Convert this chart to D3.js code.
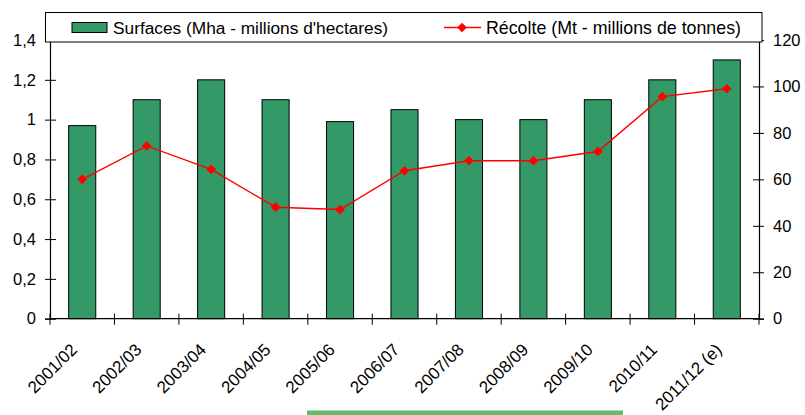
<!DOCTYPE html>
<html>
<head>
<meta charset="utf-8">
<script src="https://cdn.jsdelivr.net/npm/d3@7"></script>
<style>
  html, body { margin: 0; padding: 0; background: #fff; }
  svg { display: block; font-family: "Liberation Sans", Arial, sans-serif; }
</style>
</head>
<body>
<svg id="chart" width="805" height="415"></svg>
<script>
const categories = ["2001/02","2002/03","2003/04","2004/05","2005/06","2006/07","2007/08","2008/09","2009/10","2010/11","2011/12 (e)"];
const surfaces = [0.97, 1.10, 1.20, 1.10, 0.99, 1.05, 1.00, 1.00, 1.10, 1.20, 1.30];
const recolte = [60, 74.4, 64.3, 48, 47, 63.7, 68, 68, 72, 95.6, 99];
const leftTicks = [0, 0.2, 0.4, 0.6, 0.8, 1, 1.2, 1.4];
const leftTickLabels = ["0", "0,2", "0,4", "0,6", "0,8", "1", "1,2", "1,4"];
const rightTicks = [0, 20, 40, 60, 80, 100, 120];
const legendLabels = ["Surfaces (Mha - millions d'hectares)", "Récolte (Mt - millions de tonnes)"];

const svg = d3.select("#chart");
const X0 = 50, X1 = 759, Y0 = 318.7, Y1 = 40;

const x = d3.scaleBand().domain(categories).range([X0, X1]).paddingInner(0.58).paddingOuter(0.29);
const yL = d3.scaleLinear().domain([0, 1.4]).range([Y0, Y1]);
const yR = d3.scaleLinear().domain([0, 120]).range([Y0, Y1]);
const step = x.step();
const cx = d => x(d) + x.bandwidth() / 2;

// bars
svg.append("g").selectAll("rect").data(categories).join("rect")
  .attr("x", d => x(d))
  .attr("y", (d, i) => yL(surfaces[i]))
  .attr("width", x.bandwidth())
  .attr("height", (d, i) => Y0 - yL(surfaces[i]))
  .attr("fill", "#339966")
  .attr("stroke", "#000")
  .attr("stroke-width", 1);

// left axis
const gl = svg.append("g").attr("transform", `translate(${X0},0)`)
  .call(d3.axisLeft(yL).tickValues(leftTicks).tickFormat((d, i) => leftTickLabels[i]).tickSize(5).tickPadding(9));
gl.selectAll(".tick line").attr("x1", -5).attr("x2", 6);

// right axis
const gr = svg.append("g").attr("transform", `translate(${X1},0)`)
  .call(d3.axisRight(yR).tickValues(rightTicks).tickSize(5).tickPadding(9));
gr.selectAll(".tick line").attr("x1", -6).attr("x2", 5);

[gl, gr].forEach(g => {
  g.select(".domain").attr("stroke", "#000").attr("stroke-width", 1.2);
  g.selectAll(".tick line").attr("stroke", "#000").attr("stroke-width", 1);
  g.selectAll("text").attr("font-size", "16.5px").attr("fill", "#000")
    .attr("font-family", "Liberation Sans, Arial, sans-serif");
});

// x axis baseline + ticks at band boundaries
const gx = svg.append("g");
gx.append("line").attr("x1", X0).attr("x2", X1).attr("y1", Y0).attr("y2", Y0)
  .attr("stroke", "#000").attr("stroke-width", 1.2);
const bounds = categories.map(c => x(c) - (step - x.bandwidth()) / 2).concat([X1]);
gx.selectAll("line.t").data(bounds).join("line").attr("class", "t")
  .attr("x1", d => d).attr("x2", d => d)
  .attr("y1", Y0 - 5).attr("y2", Y0 + 6)
  .attr("stroke", "#000");
gx.selectAll("text").data(categories).join("text")
  .attr("transform", d => `translate(${cx(d) - 4},${Y0 + 32}) rotate(-45)`)
  .attr("text-anchor", "end")
  .attr("font-size", "17px")
  .attr("fill", "#000")
  .text(d => d);

// line
const line = d3.line().x((d, i) => cx(categories[i])).y(d => yR(d));
svg.append("path").datum(recolte).attr("d", line)
  .attr("fill", "none").attr("stroke", "#ff0000").attr("stroke-width", 1.4);
const diamond = d3.symbol().type(d3.symbolDiamond2).size(60);
svg.append("g").selectAll("path").data(recolte).join("path")
  .attr("d", diamond)
  .attr("transform", (d, i) => `translate(${cx(categories[i])},${yR(d)})`)
  .attr("fill", "#ff0000");

// legend
const lg = svg.append("g");
lg.append("rect").attr("x", 45.5).attr("y", 12.5).attr("width", 716.5).attr("height", 29.5)
  .attr("fill", "#fff").attr("stroke", "#000").attr("stroke-width", 1);
lg.append("rect").attr("x", 72).attr("y", 22.5).attr("width", 35).attr("height", 10)
  .attr("fill", "#339966").attr("stroke", "#000");
lg.append("text").attr("x", 113).attr("y", 33.5).attr("font-size", "17.3px").attr("fill", "#000").text(legendLabels[0]);
lg.append("line").attr("x1", 444).attr("x2", 481).attr("y1", 27.5).attr("y2", 27.5)
  .attr("stroke", "#ff0000").attr("stroke-width", 1.4);
lg.append("path").attr("d", diamond).attr("transform", "translate(462,27.5)").attr("fill", "#ff0000");
lg.append("text").attr("x", 486).attr("y", 33.5).attr("font-size", "17.8px").attr("fill", "#000").text(legendLabels[1]);

// decorative green bar at the bottom
svg.append("rect").attr("x", 307).attr("y", 410.5).attr("width", 316).attr("height", 4.5).attr("fill", "#66bb6a");
</script>
</body>
</html>
